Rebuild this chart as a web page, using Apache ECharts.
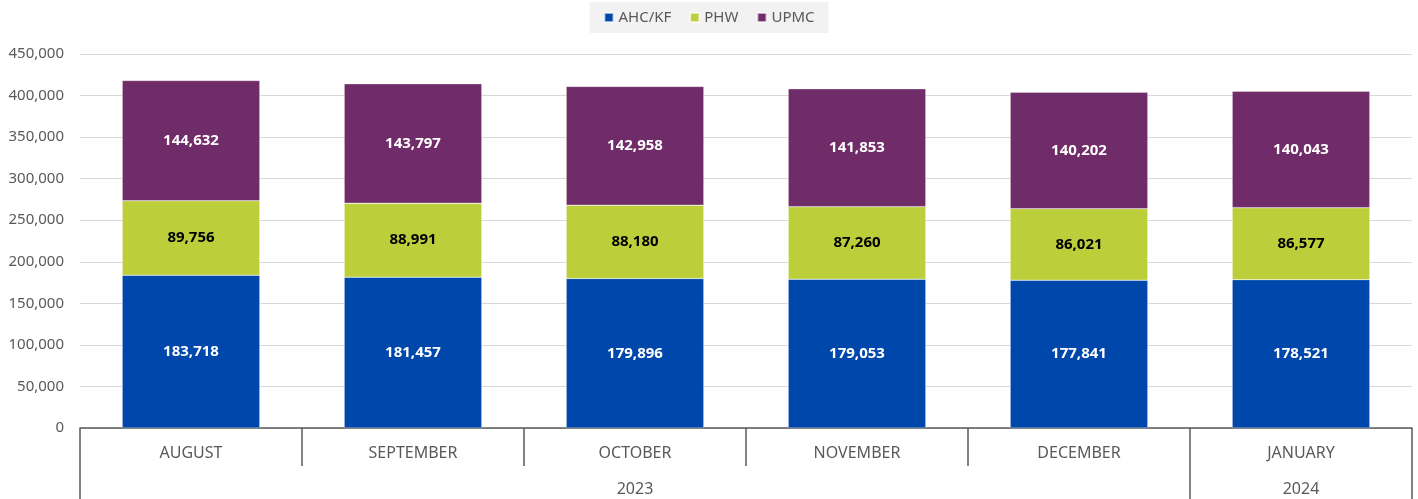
<!DOCTYPE html>
<html>
<head>
<meta charset="utf-8">
<script src="https://cdn.jsdelivr.net/npm/echarts@6/dist/echarts.min.js"></script>
<style>
  html, body { margin: 0; padding: 0; background: #fff; }
  #chart { width: 1418px; height: 499px; }
</style>
</head>
<body>
<div id="chart"></div>
<script>
var months = ['AUGUST', 'SEPTEMBER', 'OCTOBER', 'NOVEMBER', 'DECEMBER', 'JANUARY'];
var yearLabels = ['', '', '2023', '', '', '2024'];
var ahcKf = [183718, 181457, 179896, 179053, 177841, 178521];
var phw = [89756, 88991, 88180, 87260, 86021, 86577];
var upmc = [144632, 143797, 142958, 141853, 140202, 140043];

var font = '"Noto Sans", "Open Sans", sans-serif';
var gray = '#595959';

function fmt(v) {
    return v.toLocaleString('en-US');
}

function makeSeries(name, data, color, labelColor) {
    return {
        name: name,
        type: 'bar',
        stack: 'total',
        data: data,
        barWidth: '62%',
        itemStyle: { color: color, borderColor: 'rgba(255,255,255,0.6)', borderWidth: 0.5 },
        label: {
            show: true,
            position: 'inside',
            color: labelColor,
            fontWeight: 'bold',
            fontSize: 15,
            fontFamily: font,
            formatter: function(p) { return fmt(p.value); }
        }
    };
}

var chart = echarts.init(document.getElementById('chart'));

chart.setOption({
    animation: false,
    backgroundColor: '#fff',
    textStyle: { fontFamily: font },
    legend: {
        top: 2,
        left: 'center',
        icon: 'rect',
        itemWidth: 9,
        itemHeight: 9,
        itemGap: 18,
        padding: [8, 14],
        backgroundColor: '#f2f2f2',
        textStyle: { color: gray, fontSize: 15, fontFamily: font },
        data: ['AHC/KF', 'PHW', 'UPMC']
    },
    grid: { left: 80, right: 6, top: 54, bottom: 71 },
    xAxis: [{
        type: 'category',
        data: months,
        position: 'bottom',
        axisLine: { lineStyle: { color: gray, width: 1.5 } },
        axisTick: { show: true, interval: 0, length: 38, lineStyle: { color: gray, width: 1.5 } },
        axisLabel: { interval: 0, margin: 17, color: gray, fontSize: 16, fontFamily: font }
    }, {
        type: 'category',
        data: yearLabels,
        position: 'bottom',
        axisLine: { show: false },
        axisTick: {
            show: true,
            length: 75,
            lineStyle: { color: gray, width: 1.5 },
            interval: function(index) { return index === 0 || index === 5; }
        },
        axisLabel: { interval: 0, margin: 53, color: gray, fontSize: 16, fontFamily: font }
    }],
    yAxis: {
        type: 'value',
        min: 0,
        max: 450000,
        interval: 50000,
        axisLine: { show: false },
        axisTick: { show: false },
        axisLabel: { color: gray, fontSize: 15, margin: 16, fontFamily: font, formatter: fmt },
        splitLine: { lineStyle: { color: '#d9d9d9', width: 1 } }
    },
    series: [
        makeSeries('AHC/KF', ahcKf, '#0047ab', '#ffffff'),
        makeSeries('PHW', phw, '#bccf3a', '#000000'),
        makeSeries('UPMC', upmc, '#702c68', '#ffffff')
    ]
});
</script>
</body>
</html>
